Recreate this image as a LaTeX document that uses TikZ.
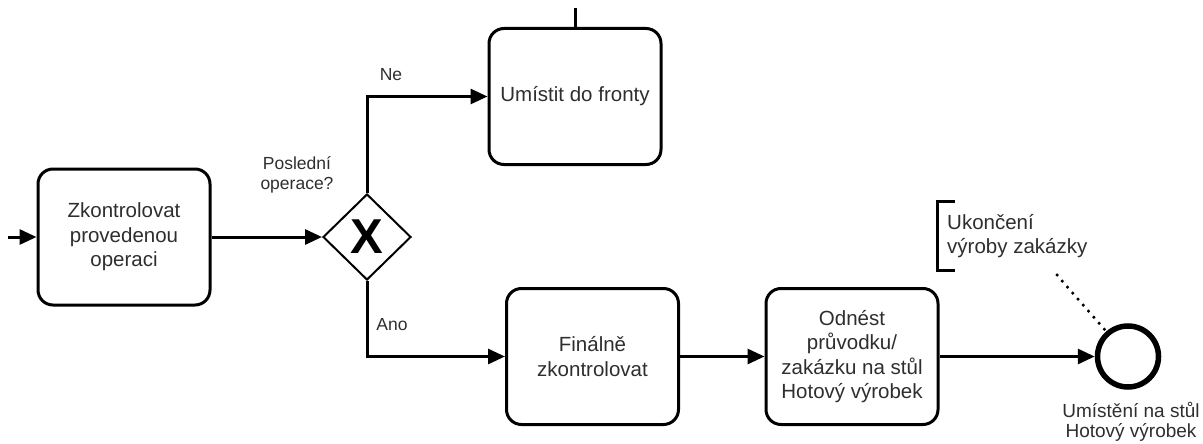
\documentclass[tikz,border=0pt]{standalone}
\usepackage{fontspec}
\setmainfont{Liberation Sans}
\usetikzlibrary{arrows.meta,shapes.geometric}
\begin{document}
\begin{tikzpicture}[x=1pt,y=-1pt,
  task/.style={draw, line width=3pt, rounded corners=15pt, minimum width=172pt, minimum height=136pt, align=center, text=black!82, font=\fontsize{20.5}{24.5}\selectfont, inner sep=0pt},
  flow/.style={line width=3pt, -{Triangle[length=17pt,width=15pt]}},
  lbl/.style={font=\fontsize{17.5}{20}\selectfont, text=black!82, align=center, inner sep=0pt},
  gateway/.style={draw, line width=2pt, diamond, minimum width=88pt, minimum height=86pt, inner sep=0pt, font=\fontsize{49}{49}\selectfont\bfseries},
  endevent/.style={draw, circle, line width=5.5pt, minimum size=61pt, inner sep=0pt},
]
\useasboundingbox (0,0) rectangle (1203,444);

\node[task] (t1) at (124,237) {Zkontrolovat\\provedenou\\operaci};
\node[gateway] (gw) at (367,237) {X};
\node[task] (t2) at (575,96.5) {Umístit do fronty};
\node[task] (t3) at (592.5,356.5) {Finálně\\zkontrolovat};
\node[task] (t4) at (852,356.5) {Odnést\\průvodku/\\zakázku na stůl\\Hotový výrobek};
\node[endevent] (end) at (1128,356.5) {};

\node[lbl] (q) at (297,175) {Poslední\\operace?};
\node[lbl] (ne) at (391,75) {Ne};
\node[lbl] (ano) at (392,325) {Ano};
\node[lbl, font=\fontsize{19}{20.5}\selectfont] (endlbl) at (1131,422) {Umístění na stůl\\Hotový výrobek};

\node[lbl, anchor=west, align=left, font=\fontsize{20.5}{24.5}\selectfont] (ann) at (947,236) {Ukončení\\výroby zakázky};
\draw[line width=3pt] (955,201) -- (937,201) -- (937,270) -- (955,270);

\coordinate (in) at (8,237);
\coordinate (top) at (575,8);
\coordinate (assoc) at (1057,275);

\draw[flow] (in) -- (t1.west);
\draw[flow] (t1.east) -- (gw.west);
\draw[flow] (gw.north) |- (t2.west);
\draw[flow] (gw.south) |- (t3.west);
\draw[flow] (t3.east) -- (t4.west);
\draw[flow] (t4.east) -- (end.west);
\draw[line width=3pt] (t2.north) -- (top);
\draw[line width=3.5pt, line cap=round, dash pattern=on 0pt off 8pt] (assoc) -- (end);
\end{tikzpicture}
\end{document}
